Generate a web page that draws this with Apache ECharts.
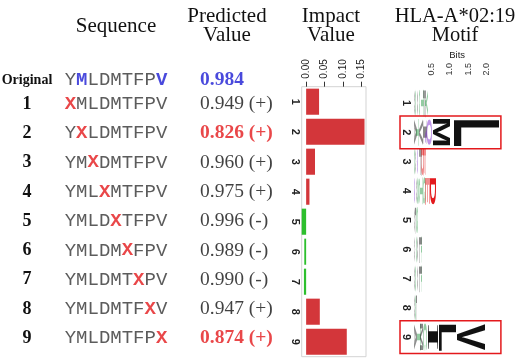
<!DOCTYPE html>
<html><head><meta charset="utf-8">
<script src="https://cdn.jsdelivr.net/npm/echarts@6/dist/echarts.min.js"></script>
<style>html,body{margin:0;padding:0;background:#fff}#c{width:520px;height:362px}</style>
</head><body><div id="c"></div>
<script>
// ---------------- data ----------------
const rowLabels = ['1','2','3','4','5','6','7','8','9'];
const originalLabel = 'Original';
const originalSequence = 'YMLDMTFPV';
const originalValue = 0.984;
const anchorPositions = [2, 9];
const mutatedSequences = ['XMLDMTFPV','YXLDMTFPV','YMXDMTFPV','YMLXMTFPV','YMLDXTFPV','YMLDMXFPV','YMLDMTXPV','YMLDMTFXV','YMLDMTFPX'];
const predictedValues = [0.949, 0.826, 0.960, 0.975, 0.996, 0.989, 0.990, 0.947, 0.874];
const impactValues = [0.035, 0.158, 0.024, 0.009, -0.012, -0.005, -0.006, 0.037, 0.110];
const impactTicks = [0, 0.05, 0.10, 0.15];
const bitsTicks = [0.5, 1.0, 1.5, 2.0];
const headers = ['Sequence', 'Predicted\nValue', 'Impact\nValue', 'HLA-A*02:19\nMotif'];
// motif letters per position, bottom -> top, [letter, bits]
const motifP1 = [['A',0.04],['S',0.05],['V',0.05],['G',0.05],['T',0.06],['F',0.06],['Y',0.07]];
const motifP2 = [['A',0.06],['T',0.08],['V',0.10],['I',0.10],['Q',0.14],['M',0.47],['L',1.29]];
const motifP3 = [['S',0.04],['A',0.05],['Q',0.05],['F',0.06],['D',0.06],['E',0.07]];
const motifP4 = [['Q',0.05],['A',0.05],['S',0.06],['T',0.08],['G',0.06],['E',0.13],['D',0.20]];
const motifP5 = [['A',0.03],['L',0.03],['S',0.03],['G',0.03]];
const motifP6 = [['A',0.05],['S',0.05],['V',0.05],['L',0.06],['T',0.05]];
const motifP7 = [['A',0.05],['S',0.04],['V',0.05],['L',0.06],['T',0.05]];
const motifP8 = [['A',0.03],['S',0.03],['L',0.03]];
const motifP9 = [['A',0.08],['T',0.10],['M',0.08],['C',0.10],['I',0.27],['L',0.47],['V',0.82]];
const motifColumns = [motifP1,motifP2,motifP3,motifP4,motifP5,motifP6,motifP7,motifP8,motifP9];

// ---------------- styles ----------------
const RED = '#e3191c', BLUE = '#1b1bd3';
const SERIF = '"Liberation Serif", "Times New Roman", serif';
const MONO = '"Liberation Mono", "Courier New", monospace';
const SANS = '"Liberation Sans", Arial, sans-serif';
const letterColors = {A:'#222',V:'#111',L:'#111',I:'#111',M:'#111',F:'#333',W:'#111',P:'#333',
  S:'#2a9a45',T:'#2a9a45',Y:'#2a9a45',C:'#2a9a45',G:'#2a9a45',Q:'#7d2bd0',N:'#7d2bd0',
  D:'#e3191c',E:'#e3191c',K:'#1f3fd0',R:'#1f3fd0',H:'#1f3fd0'};
const inkW = {A:.70,C:.62,D:.62,E:.55,F:.50,G:.68,I:.36,L:.52,M:.70,N:.60,P:.56,Q:.72,S:.58,T:.58,V:.67,Y:.67,W:.9,K:.65,R:.65,H:.6};

// build motif items
const motifItems = [];
motifColumns.forEach((col, p) => {
  let acc = 0;
  col.forEach(([L, b]) => { motifItems.push({letter: L, bits: b, value: [acc, p, acc + b]}); acc += b; });
});

function seqRich(s, marks, style) {
  return s.split('').map((c, i) => marks(c, i) ? '{' + style + '|' + c + '}' : '{n|' + c + '}').join('');
}
const SEQ_FS = 19;
const seqRichStyles = {
  n: {fontFamily: MONO, fontSize: SEQ_FS, color: '#333'},
  x: {fontFamily: MONO, fontSize: SEQ_FS, fontWeight: 'bold', color: RED},
  b: {fontFamily: MONO, fontSize: SEQ_FS, fontWeight: 'bold', color: BLUE}
};

const chart = echarts.init(document.getElementById('c'), null, {renderer: 'canvas'});

const hidX = (gi) => ({gridIndex: gi, type: 'category', data: ['seq','val'], show: false});

const option = {
  animation: false,
  backgroundColor: '#fff',
  graphic: [
    {type:'text', x:116, y:26, style:{text: headers[0], font:'21px ' + SERIF, fill:'#111', align:'center', verticalAlign:'middle', lineHeight:19}},
    {type:'text', x:227, y:26, style:{text: headers[1], font:'21px ' + SERIF, fill:'#111', align:'center', verticalAlign:'middle', lineHeight:19}},
    {type:'text', x:331, y:26, style:{text: headers[2], font:'21px ' + SERIF, fill:'#111', align:'center', verticalAlign:'middle', lineHeight:19}},
    {type:'text', x:455, y:26, style:{text: headers[3], font:'20.5px ' + SERIF, fill:'#111', align:'center', verticalAlign:'middle', lineHeight:19}}
  ],
  grid: [
    {left: 60.5, width: 222, top: 68, height: 24, outerBoundsMode: 'none'},
    {left: 60.5, width: 222, top: 89.35, height: 263.7, outerBoundsMode: 'none'},
    {left: 301.7, width: 64.3, top: 86.7, height: 270, outerBoundsMode: 'none', show: true, borderColor: '#d3d3d3', borderWidth: 1},
    {left: 413.5, width: 87.4, top: 88.4, height: 263.25, outerBoundsMode: 'none'}
  ],
  xAxis: [
    hidX(0), hidX(1),
    {gridIndex: 2, type: 'value', position: 'top', min: -0.012, max: 0.162,
      axisLine: {show: false}, splitLine: {show: false},
      axisTick: {show: true, length: 5, customValues: impactTicks, lineStyle: {color: '#333'}},
      axisLabel: {show: true, customValues: impactTicks, rotate: -90, margin: 8, fontFamily: SANS, fontSize: 10, color: '#222',
        formatter: v => v.toFixed(2)}},
    {gridIndex: 3, type: 'value', position: 'top', min: 0, max: 2.4,
      axisLine: {show: false}, splitLine: {show: false}, axisTick: {show: false},
      axisLabel: {show: true, customValues: bitsTicks, rotate: -90, margin: 13, fontFamily: SANS, fontSize: 9, color: '#333',
        formatter: v => v.toFixed(1)},
      name: 'Bits', nameLocation: 'middle', nameGap: 28, nameMoveOverlap: false,
      nameTextStyle: {fontFamily: SANS, fontSize: 9.5, color: '#222'}}
  ],
  yAxis: [
    {gridIndex: 0, type: 'category', data: [originalLabel], axisLine: {show: false}, axisTick: {show: false},
      axisLabel: {align: 'center', margin: 33.5, fontFamily: SERIF, fontWeight: 'bold', fontSize: 14, color: '#111'}},
    {gridIndex: 1, type: 'category', data: rowLabels, inverse: true, axisLine: {show: false}, axisTick: {show: false},
      axisLabel: {align: 'center', margin: 33.5, fontFamily: SERIF, fontWeight: 'bold', fontSize: 18, color: '#111'}},
    {gridIndex: 2, type: 'category', data: rowLabels, inverse: true, axisLine: {show: false}, axisTick: {show: false},
      axisLabel: {rotate: -90, margin: 1, fontFamily: SANS, fontWeight: 'bold', fontSize: 11, color: '#222'}},
    {gridIndex: 3, type: 'category', data: rowLabels, inverse: true, axisLine: {show: false}, axisTick: {show: false},
      axisLabel: {rotate: -90, margin: 2, fontFamily: SANS, fontWeight: 'bold', fontSize: 11, color: '#222'}}
  ],
  series: [
    // Original row
    {type: 'scatter', xAxisIndex: 0, yAxisIndex: 0, symbolSize: 0, silent: true,
      data: [
        {value: [0, 0], label: {show: true, position: 'inside', align: 'center', verticalAlign: 'middle',
          formatter: seqRich(originalSequence, (c, i) => anchorPositions.includes(i + 1), 'b'), rich: seqRichStyles}},
        {value: [1, 0], label: {show: true, position: 'inside', align: 'left', verticalAlign: 'middle', offset: [-27, 0],
          formatter: originalValue.toFixed(3), fontFamily: SERIF, fontWeight: 'bold', fontSize: 19.5, color: BLUE}}
      ]},
    // Mutated rows
    {type: 'scatter', xAxisIndex: 1, yAxisIndex: 1, symbolSize: 0, silent: true,
      data: mutatedSequences.map((s, i) => ({value: [0, i], label: {show: true, position: 'inside', align: 'center', verticalAlign: 'middle',
        formatter: seqRich(s, c => c === 'X', 'x'), rich: seqRichStyles}}))
      .concat(predictedValues.map((v, i) => {
        const hi = anchorPositions.includes(i + 1);
        return {value: [1, i], label: {show: true, position: 'inside', align: 'left', verticalAlign: 'middle', offset: [-27, 0],
          formatter: v.toFixed(3) + (impactValues[i] >= 0 ? ' (+)' : ' (-)'),
          fontFamily: SERIF, fontWeight: hi ? 'bold' : 'normal', fontSize: 19.5, color: hi ? RED : '#111'}};
      }))},
    // Impact bars
    {type: 'bar', xAxisIndex: 2, yAxisIndex: 2, barCategoryGap: '13%', silent: true,
      data: impactValues.map(v => ({value: v, itemStyle: {color: v >= 0 ? '#d3363a' : '#2dbf2d'}}))},
    // Motif letters
    {type: 'custom', xAxisIndex: 3, yAxisIndex: 3, silent: true, clip: false,
      encode: {x: [0, 2], y: 1},
      data: motifItems.map(m => m.value),
      renderItem: (params, api) => {
        const it = motifItems[params.dataIndex];
        const L = it.letter;
        const a = api.coord([api.value(0), api.value(1)]);
        const b = api.coord([api.value(2), api.value(1)]);
        const band = api.size([0, 1])[1];
        const isI = L === 'I';
        const capH = isI ? 0.662 : 0.729;
        const font = 'bold 100px ' + (isI ? SERIF : SANS);
        return {type: 'text', x: (a[0] + b[0]) / 2, y: a[1], rotation: -Math.PI / 2,
          scaleX: band * 0.9 / (inkW[L] * 100), scaleY: Math.max(b[0] - a[0], 0.3) / (capH * 100),
          style: {text: L, font: font, fill: letterColors[L] || '#333', opacity: it.bits < 0.15 ? 0.5 : 1,
            align: 'center', verticalAlign: 'middle'}};
      }},
    // Motif anchor boxes
    {type: 'custom', xAxisIndex: 3, yAxisIndex: 3, silent: true, clip: false,
      encode: {y: 0},
      data: anchorPositions.map(p => [p - 1]),
      renderItem: (params, api) => {
        const c = api.coord([0, api.value(0)]);
        const band = api.size([0, 1])[1];
        const cs = params.coordSys;
        return {type: 'rect', shape: {x: cs.x - 13.5, y: c[1] - band * 0.56, width: cs.width + 13.5, height: band * 1.12},
          style: {fill: 'none', stroke: RED, lineWidth: 1.5}};
      }}
  ]
};
chart.setOption(option);
</script>
</body></html>
